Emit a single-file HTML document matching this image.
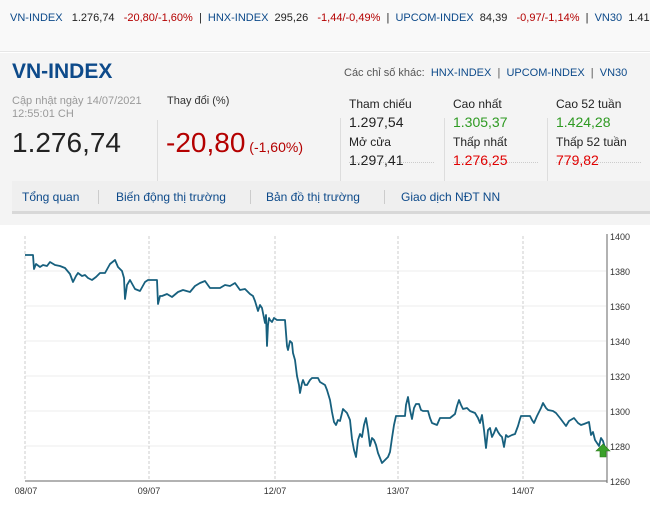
<!DOCTYPE html>
<html><head><meta charset="utf-8"><style>
*{margin:0;padding:0;box-sizing:border-box}
body{width:650px;height:505px;overflow:hidden;background:#fff;font-family:"Liberation Sans",Arial,sans-serif;position:relative}
.a{position:absolute;white-space:nowrap}
.b{color:#0d4a8a}.r{color:#b40000}.g{color:#2e9a22}.rr{color:#e00000}
</style></head><body>
<div class="a" style="left:0;top:0;width:650px;height:52px;background:#f9f9f9;border-bottom:1px solid #e6e6e6"></div>
<div class="a" style="left:10px;top:12px;font-size:11px;color:#222">
<span class="b">VN-INDEX</span>&nbsp;&nbsp; 1.276,74 &nbsp;&nbsp;<span class="r">-20,80/-1,60%</span> &nbsp;| &nbsp;<span class="b">HNX-INDEX</span> &nbsp;295,26 &nbsp;&nbsp;<span class="r">-1,44/-0,49%</span> &nbsp;| &nbsp;<span class="b">UPCOM-INDEX</span> &nbsp;84,39 &nbsp;&nbsp;<span class="r">-0,97/-1,14%</span> &nbsp;| &nbsp;<span class="b">VN30</span> &nbsp;1.410,</div>
<div class="a" style="left:0;top:53px;width:650px;height:172px;background:#f4f4f4"></div>
<div class="a b" style="left:12px;top:60px;font-size:21px;font-weight:bold">VN-INDEX</div>
<div class="a" style="left:344px;top:67px;font-size:11px;color:#555">Các chỉ số khác: &nbsp;<span class="b">HNX-INDEX</span> &nbsp;| &nbsp;<span class="b">UPCOM-INDEX</span> &nbsp;| &nbsp;<span class="b">VN30</span></div>
<div class="a" style="left:12px;top:95px;font-size:11px;color:#999;line-height:13px">Cập nhật ngày 14/07/2021<br>12:55:01 CH</div>
<div class="a" style="left:12px;top:127px;font-size:28px;color:#222">1.276,74</div>
<div class="a" style="left:157px;top:120px;width:1px;height:88px;background:#ddd"></div>
<div class="a" style="left:167px;top:95px;font-size:11px;color:#333">Thay đổi (%)</div>
<div class="a r" style="left:166px;top:127px;font-size:28px">-20,80<span style="font-size:14px"> (-1,60%)</span></div>
<div class="a" style="left:340px;top:118px;width:1px;height:90px;background:#ddd"></div>
<div class="a" style="left:444px;top:118px;width:1px;height:90px;background:#ddd"></div>
<div class="a" style="left:547px;top:118px;width:1px;height:90px;background:#ddd"></div>
<div class="a" style="left:349px;top:162px;width:85px;border-top:1px dotted #ccc"></div>
<div class="a" style="left:453px;top:162px;width:85px;border-top:1px dotted #ccc"></div>
<div class="a" style="left:556px;top:162px;width:85px;border-top:1px dotted #ccc"></div>
<div class="a" style="left:349px;top:95px;font-size:12px;color:#222;line-height:18px">Tham chiếu<br><span style="font-size:14px">1.297,54</span></div>
<div class="a" style="left:349px;top:133px;font-size:12px;color:#222;line-height:18px">Mở cửa<br><span style="font-size:14px">1.297,41</span></div>
<div class="a" style="left:453px;top:95px;font-size:12px;color:#222;line-height:18px">Cao nhất<br><span class="g" style="font-size:14px">1.305,37</span></div>
<div class="a" style="left:453px;top:133px;font-size:12px;color:#222;line-height:18px">Thấp nhất<br><span class="rr" style="font-size:14px">1.276,25</span></div>
<div class="a" style="left:556px;top:95px;font-size:12px;color:#222;line-height:18px">Cao 52 tuần<br><span class="g" style="font-size:14px">1.424,28</span></div>
<div class="a" style="left:556px;top:133px;font-size:12px;color:#222;line-height:18px">Thấp 52 tuần<br><span class="rr" style="font-size:14px">779,82</span></div>
<div class="a" style="left:12px;top:181px;width:638px;height:33px;background:#efefef;border-bottom:3px solid #d8d8d8"></div>
<div class="a b" style="left:22px;top:190px;font-size:12px">Tổng quan</div>
<div class="a b" style="left:116px;top:190px;font-size:12px">Biến động thị trường</div>
<div class="a b" style="left:266px;top:190px;font-size:12px">Bản đồ thị trường</div>
<div class="a b" style="left:401px;top:190px;font-size:12px">Giao dịch NĐT NN</div>
<div class="a" style="left:98px;top:190px;width:1px;height:14px;background:#ccc"></div>
<div class="a" style="left:250px;top:190px;width:1px;height:14px;background:#ccc"></div>
<div class="a" style="left:384px;top:190px;width:1px;height:14px;background:#ccc"></div>
<svg class="a" style="left:0;top:0" width="650" height="505" font-family="Liberation Sans,sans-serif" font-size="9" fill="#333">
<g stroke="#eee"><line x1="25" x2="606" y1="271" y2="271"/><line x1="25" x2="606" y1="306" y2="306"/><line x1="25" x2="606" y1="341" y2="341"/><line x1="25" x2="606" y1="376" y2="376"/><line x1="25" x2="606" y1="411" y2="411"/><line x1="25" x2="606" y1="446" y2="446"/></g>
<g stroke="#ccc" stroke-dasharray="3,2"><line x1="25" x2="25" y1="236" y2="481"/><line x1="149" x2="149" y1="236" y2="481"/><line x1="275" x2="275" y1="236" y2="481"/><line x1="398" x2="398" y1="236" y2="481"/><line x1="523" x2="523" y1="236" y2="481"/></g>
<line x1="25" x2="607" y1="481" y2="481" stroke="#666"/>
<line x1="607" x2="607" y1="234" y2="483" stroke="#666"/>
<g text-anchor="start"><text x="610" y="240">1400</text><text x="610" y="275">1380</text><text x="610" y="310">1360</text><text x="610" y="345">1340</text><text x="610" y="380">1320</text><text x="610" y="415">1300</text><text x="610" y="450">1280</text><text x="610" y="485">1260</text></g>
<g text-anchor="middle"><text x="26" y="494">08/07</text><text x="149" y="494">09/07</text><text x="275" y="494">12/07</text><text x="398" y="494">13/07</text><text x="523" y="494">14/07</text></g>
<polyline fill="none" stroke="#17607e" stroke-width="1.8" stroke-linejoin="round" points="25,255 33,255 34,269 36,264 40,267 43,265 47,266 50,262 55,265 60,266 65,268 70,274 73,282 76,276 78,273 82,276 85,275 88,278 92,280 96,277 100,273 105,273 110,264 115,260 118,267 122,271 124,278 125,299 127,285 130,280 135,289 140,291 145,282 148,280 157,280 158,304 160,296 162,296 167,294 172,297 178,292 183,290 190,292 195,286 200,283 205,281 210,288 220,288 225,285 230,286 235,283 240,290 245,289 250,294 253,296 255,301 258,311 260,305 262,308 265,323 266,315 267,346 268,325 269,318 270,320 272,322 274,318 277,320 285,320 287,346 288,350 290,341 292,343 293,353 295,360 297,376 299,385 300,393 302,383 303,380 305,385 307,385 310,380 312,378 318,378 320,382 325,385 327,390 330,400 332,412 334,422 336,425 338,420 340,421 343,409 347,413 350,420 352,439 354,450 356,457 358,440 360,434 362,437 364,425 366,418 368,430 370,446 372,438 374,440 376,445 378,453 380,458 382,463 385,460 388,457 390,452 392,438 394,425 396,416 405,416 406,405 408,397 410,410 412,419 414,408 416,404 419,404 421,410 423,411 428,411 430,418 432,423 437,425 440,418 450,418 455,414 457,406 459,400 461,405 463,409 467,408 470,411 475,413 478,418 480,423 482,415 484,430 486,448 488,430 490,428 492,437 494,433 496,428 498,432 500,435 502,437 504,447 506,435 508,437 512,435 515,434 518,426 520,419 521,416 530,416 532,420 534,423 537,416 541,408 543,403 546,408 548,410 553,411 556,413 560,418 563,422 566,426 569,421 574,418 578,423 581,425 584,424 589,422 591,435 593,432 595,440 597,443 599,446 601,438 603,441 605,448"/>
<polygon points="603,444 610,451 606,451 606,457 600,457 600,451 596,451" fill="#3aa02a" stroke="#2a7a1a" stroke-width="0.6"/>
</svg>
</body></html>
